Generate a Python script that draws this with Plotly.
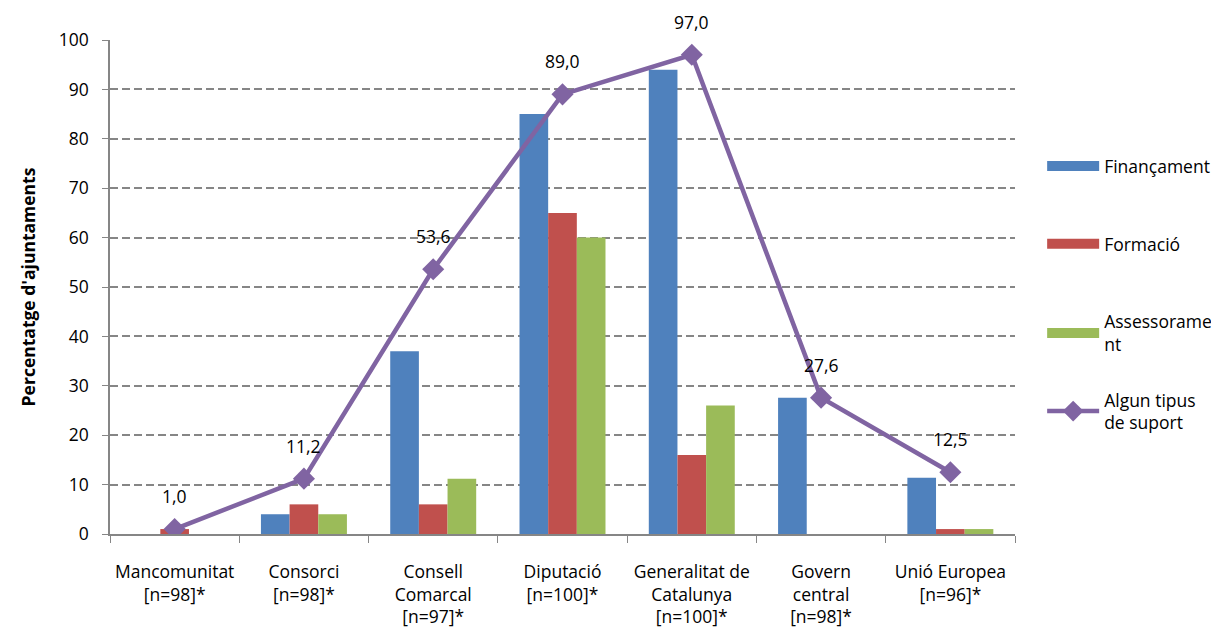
import plotly.graph_objects as go

categories = ["Mancomunitat<br>[n=98]*", "Consorci<br>[n=98]*", "Consell<br>Comarcal<br>[n=97]*",
              "Diputació<br>[n=100]*", "Generalitat de<br>Catalunya<br>[n=100]*",
              "Govern<br>central<br>[n=98]*", "Unió Europea<br>[n=96]*"]
financament = [0, 4.0, 37.0, 85.0, 94.0, 27.6, 11.4]
formacio = [1.0, 6.0, 6.0, 65.0, 16.0, 0, 1.0]
assessorament = [0, 4.0, 11.2, 60.0, 26.0, 0, 1.0]
algun = [1.0, 11.2, 53.6, 89.0, 97.0, 27.6, 12.5]
series_names = ["Finançament", "Formació", "Assessorame<br>nt", "Algun tipus<br>de suport"]
colors = ["#4F81BD", "#C0504D", "#9BBB59", "#8064A2"]

FONT = "Open Sans"
FS = 17.5
fig = go.Figure()
for name, vals, c in zip(series_names[:3], [financament, formacio, assessorament], colors[:3]):
    fig.add_trace(go.Bar(x=categories, y=vals, name=name, marker_color=c,
                         marker_line_width=0, showlegend=False))
# legend swatches (wide rectangles)
for i, (name, c) in enumerate(zip(series_names[:3], colors[:3])):
    fig.add_trace(go.Scatter(x=[None], y=[None], mode="lines", name=name,
                             line=dict(color=c, width=12), legendgroup=f"g{i}"))
fig.add_trace(go.Scatter(x=categories, y=algun, mode="lines+markers", name=series_names[3],
                         line=dict(color=colors[3], width=4.5),
                         marker=dict(symbol="diamond", size=17, color=colors[3]),
                         legend="legend2"))
for x, v in zip(categories, algun):
    fig.add_annotation(x=x, y=v, text=f"{v:.1f}".replace(".", ","), showarrow=False,
                       yshift=33, font=dict(family=FONT, size=FS, color="black"))

fig.update_layout(
    width=1211, height=626,
    margin=dict(l=102, r=204, t=32, b=100, autoexpand=False),
    plot_bgcolor="white", paper_bgcolor="white",
    barmode="group", bargap=0.335, bargroupgap=0,
    font=dict(family=FONT, size=FS, color="black"),
    legend=dict(x=1.03, y=0.781, xanchor="left", yanchor="top",
                tracegroupgap=52, itemwidth=52, traceorder="grouped",
                font=dict(family=FONT, size=FS)),
    legend2=dict(x=1.03, y=0.308, xanchor="left", yanchor="top",
                 itemwidth=52, font=dict(family=FONT, size=FS)),
)
fig.update_xaxes(showline=True, linecolor="#868686", linewidth=1.5, ticks="outside",
                 tickson="boundaries", ticklen=7, tickcolor="#868686", automargin=False,
                 ticklabelstandoff=21,
                 tickfont=dict(family=FONT, size=FS))
fig.update_yaxes(range=[0, 100], dtick=10, showline=True, linecolor="#868686", linewidth=1.5,
                 ticks="outside", ticklen=6, tickcolor="#868686", automargin=False,
                 ticklabelstandoff=10,
                 showgrid=True, gridcolor="#868686", griddash="8px,4px", gridwidth=1.5,
                 tickfont=dict(family=FONT, size=FS),
                 title=dict(text="<b>Percentatge d'ajuntaments</b>", font=dict(family=FONT, size=17.5), standoff=19))
fig.write_html("out.html")
